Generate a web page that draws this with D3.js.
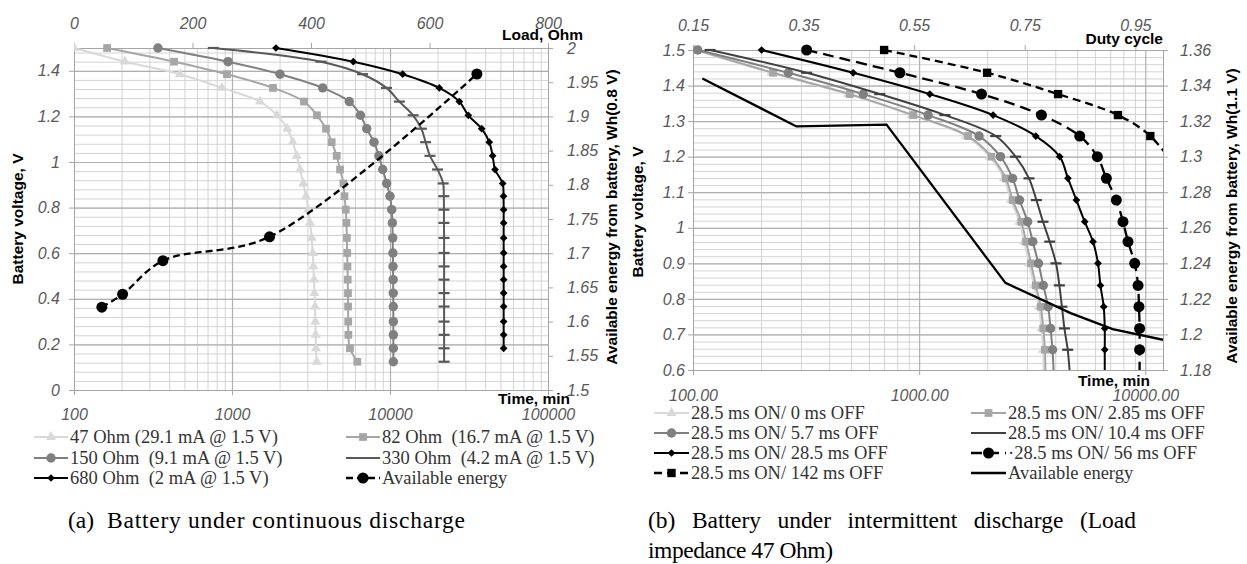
<!DOCTYPE html>
<html><head><meta charset="utf-8">
<script src="https://cdn.jsdelivr.net/npm/d3@7"></script>
<style>
body{margin:0;background:#fff;}
svg{display:block;}
text{white-space:pre;}
</style></head><body>
<svg id="c" width="1247" height="564"></svg>
<script>
// ================= DATA: (a) continuous discharge =================
const leftVolt = [1.5,1.44,1.385,1.325,1.265,1.205,1.146,1.087,1.027,0.967,0.906,0.85,0.791,0.733,0.667,0.601,0.542,0.484,0.425,0.366,0.3,0.242,0.183,0.124];
const t47  = [100,210,469,864,1504,1927,2239,2423,2567,2694,2828,2940,3040,3117,3194,3243,3272,3303,3325,3352,3367,3385,3400,3435];
const t82  = [162,430,929,1817,2856,3450,3936,4275,4600,4830,5070,5150,5250,5300,5330,5360,5380,5400,5420,5430,5440,5450,5580,6210];
const t150 = [340,944,2013,3750,5525,6500,7118,7920,8500,8990,9530,10000,10250,10350,10400,10430,10450,10470,10480,10490,10500,10500,10500,10500];
const t330 = [762,3660,6700,9500,11460,14000,15800,16800,17900,20000,21700,21900,21950,21950,22000,22000,22000,22000,22000,22000,22000,22000,22000,22000];
const t680 = [1898,5858,12030,20510,27470,31310,38040,42480,44630,46210,51680,52300,52400,52400,52400,52400,52400,52400,52400,52400,52400,52400,52400];
const loadOhm   = [47, 82, 150, 330, 680];
const energy08V = [1.621, 1.640, 1.689, 1.724, 1.962];

const leftYTicks  = [0,0.2,0.4,0.6,0.8,1,1.2,1.4];
const leftY2Ticks = [1.5,1.55,1.6,1.65,1.7,1.75,1.8,1.85,1.9,1.95,2];
const leftXTicks  = [100,1000,10000,100000];
const leftX2Ticks = [0,200,400,600,800];

// ================= DATA: (b) intermittent discharge =================
const rightVolt = [1.5,1.436,1.376,1.317,1.258,1.2,1.139,1.078,1.017,0.961,0.9,0.838,0.778,0.717,0.657,0.58];
const tOff0   = [102,222,485,925,1615,2050,2370,2545,2775,2915,3065,3220,3385,3475,3535,3555];
const tOff285 = [104,226,494,941,1647,2089,2416,2593,2830,2973,3124,3283,3450,3540,3600,3620];
const tOff57  = [105,264,566,1096,1841,2290,2590,2780,3020,3180,3370,3540,3720,3810,3890,3940];
const tOff104 = [119,318,670,1300,2180,2670,3060,3300,3530,3780,4030,4170,4280,4390,4540,4650];
const tOff28  = [201,511,1115,2124,3280,4184,4550,4960,5400,5873,6180,6335,6550,6620,6620,6620];
const tOff56  = [318,822,1887,3475,5130,6140,6730,7450,7970,8390,8980,9290,9380,9440,9440,9440];
const tOff142 = [700,1998,4115,7570,10530,14000];
const vOff142 = [1.5,1.436,1.376,1.317,1.258,1.16];
const dutyCycle = [0.167,0.337,0.5,0.715,0.833,0.909,1.0];
const energy11V = [1.344,1.317,1.318,1.229,1.212,1.203,1.197];

const rightYTicks  = [0.6,0.7,0.8,0.9,1,1.1,1.2,1.3,1.4,1.5];
const rightY2Ticks = [1.18,1.2,1.22,1.24,1.26,1.28,1.3,1.32,1.34,1.36];
const rightXTicks  = [100,1000,10000];
const rightX2Ticks = [0.15,0.35,0.55,0.75,0.95];

// ================= helpers =================
const svg = d3.select('#c');
const defs = svg.append('defs');
const TICKFONT = "'Liberation Sans', Arial, sans-serif";
const SERIF = "'Liberation Serif', 'Times New Roman', serif";
const fmtNum = d => String(+d.toFixed(2));

function zip(a, b){ return a.map((v,i)=>[v, b[i]]); }

function clipRect(id, x0, y0, x1, y1){
  defs.append('clipPath').attr('id', id).append('rect')
    .attr('x', x0).attr('y', y0).attr('width', x1-x0).attr('height', y1-y0);
}

function styleAxis(g, color){
  g.select('.domain').attr('stroke', color || '#a6a6a6').attr('stroke-width', 1);
  g.selectAll('.tick line').attr('stroke', color || '#a6a6a6');
  g.selectAll('.tick text').attr('font-family', TICKFONT).attr('font-style','italic')
    .attr('font-size', 16).attr('fill', '#595959');
}

function grid(g, xs, ys, x0, x1, y0, y1, hMinor, hMajor, vMinor, vMajor){
  const gg = g.append('g');
  const drawH = (vals, col, w) => gg.append('g').attr('transform', `translate(${x0},0)`)
    .call(d3.axisLeft(ys).tickValues(vals).tickSize(-(x1-x0)).tickFormat(''))
    .call(s => { s.select('.domain').remove(); s.selectAll('line').attr('stroke', col).attr('stroke-width', w); });
  const drawV = (vals, col, w) => gg.append('g').attr('transform', `translate(0,${y1})`)
    .call(d3.axisBottom(xs).tickValues(vals).tickSize(-(y1-y0)).tickFormat(''))
    .call(s => { s.select('.domain').remove(); s.selectAll('line').attr('stroke', col).attr('stroke-width', w); });
  drawV(vMinor, '#d3d3d3', 1);
  drawH(hMinor, '#d3d3d3', 1);
  drawV(vMajor, '#b0b0b0', 1.2);
  drawH(hMajor, '#b0b0b0', 1.2);
}

const symMap = {triangle: d3.symbolTriangle, square: d3.symbolSquare, circle: d3.symbolCircle};
function drawMarker(g, type, size, color){
  if (!type) return;
  if (type === 'dash') {
    g.append('rect').attr('x', -5.5).attr('y', -1.1).attr('width', 11).attr('height', 2.2).attr('fill', color);
  } else if (type === 'diamond') {
    g.append('path').attr('d', d3.symbol(d3.symbolSquare, size)()).attr('transform', 'rotate(45)').attr('fill', color);
  } else {
    g.append('path').attr('d', d3.symbol(symMap[type], size)()).attr('fill', color);
  }
}

function drawSeries(g, s, xs, ys, clipId){
  const sg = g.append('g').attr('clip-path', `url(#${clipId})`);
  const line = d3.line().x(d => xs(d[0])).y(d => ys(d[1])).curve(s.curve || d3.curveCatmullRom);
  sg.append('path').datum(s.data).attr('d', line).attr('fill','none')
    .attr('stroke', s.color).attr('stroke-width', s.width || 2)
    .attr('stroke-dasharray', s.dash || null);
  if (s.marker) {
    sg.selectAll(null).data(s.data).enter().append('g')
      .attr('transform', d => `translate(${xs(d[0])},${ys(d[1])})`)
      .each(function(){ drawMarker(d3.select(this), s.marker, s.size, s.color); });
  }
}

function legend(g, items, cols, rows, len){
  items.forEach((it, i) => {
    const x0 = cols[i % 2], y = rows[Math.floor(i / 2)];
    const lg = g.append('g');
    lg.append('line').attr('x1', x0).attr('x2', x0+len).attr('y1', y).attr('y2', y)
      .attr('stroke', it.color).attr('stroke-width', it.width || 2).attr('stroke-dasharray', it.dash || null);
    if (it.marker) drawMarker(lg.append('g').attr('transform', `translate(${x0+len/2},${y})`), it.marker, it.size, it.color);
    lg.append('text').attr('x', x0+len+2).attr('y', y).attr('dy','0.34em')
      .attr('font-family', SERIF).attr('font-size', 18.5).attr('fill', '#333').text(it.name);
  });
}

function axisTitle(g, text, x, y, rot, anchor){
  g.append('text').attr('transform', `translate(${x},${y}) rotate(${rot})`)
    .attr('text-anchor', anchor).attr('font-family', TICKFONT).attr('font-weight','bold')
    .attr('font-size', 15.5).attr('fill', '#000').text(text);
}

// ================= (a) LEFT PANEL =================
(function(){
  const X0 = 74, X1 = 548, Y0 = 48, Y1 = 390;
  const xs  = d3.scaleLog().domain([100, 100000]).range([X0, X1]);
  const ys  = d3.scaleLinear().domain([0, 1.5]).range([Y1, Y0]);
  const xs2 = d3.scaleLinear().domain([0, 800]).range([X0, X1]);
  const ys2 = d3.scaleLinear().domain([1.5, 2]).range([Y1, Y0]);
  const g = svg.append('g');
  clipRect('clipL', X0, Y0-8, X1+8, Y1);

  const vMinor = [];
  [100,1000,10000].forEach(dec => [2,3,4,5,6,7,8,9].forEach(k => vMinor.push(dec*k)));
  grid(g, xs, ys, X0, X1, Y0, Y1, d3.range(0, 1.49, 0.04), leftYTicks, vMinor, [1000,10000]);

  g.append('g').attr('transform', `translate(${X0},0)`)
    .call(d3.axisLeft(ys).tickValues(leftYTicks).tickFormat(fmtNum).tickSize(5).tickSizeOuter(0).tickPadding(9))
    .call(s => styleAxis(s));
  g.append('g').attr('transform', `translate(${X1},0)`)
    .call(d3.axisRight(ys2).tickValues(leftY2Ticks).tickFormat(fmtNum).tickSize(5).tickSizeOuter(0).tickPadding(14))
    .call(s => styleAxis(s));
  g.append('g').attr('transform', `translate(0,${Y1})`)
    .call(d3.axisBottom(xs).tickValues(leftXTicks).tickFormat(d3.format('d')).tickSize(5).tickSizeOuter(0).tickPadding(14))
    .call(s => styleAxis(s));
  g.append('g').attr('transform', `translate(0,${Y0})`)
    .call(d3.axisTop(xs2).tickValues(leftX2Ticks).tickFormat(d3.format('d')).tickSize(5).tickSizeOuter(0).tickPadding(14))
    .call(s => styleAxis(s));

  const series = [
    {name:'47 Ohm (29.1 mA @ 1.5 V)', data: zip(t47, leftVolt),  color:'#d9d9d9', marker:'triangle', size:45},
    {name:'82 Ohm  (16.7 mA @ 1.5 V)', data: zip(t82, leftVolt), color:'#a6a6a6', marker:'square', size:60},
    {name:'150 Ohm  (9.1 mA @ 1.5 V)', data: zip(t150, leftVolt),color:'#808080', marker:'circle', size:70},
    {name:'330 Ohm  (4.2 mA @ 1.5 V)', data: zip(t330, leftVolt),color:'#595959', marker:'dash', size:0},
    {name:'680 Ohm  (2 mA @ 1.5 V)', data: zip(t680, leftVolt.slice(0, t680.length)), color:'#000', marker:'diamond', size:30}
  ];
  series.forEach(s => drawSeries(g, s, xs, ys, 'clipL'));
  const en = {name:'Available energy', data: zip(loadOhm, energy08V), color:'#000', marker:'circle', size:95, dash:'7,4', width:2.3};
  drawSeries(g, en, xs2, ys2, 'clipL');

  axisTitle(g, 'Battery voltage, V', 23, 219, -90, 'middle');
  axisTitle(g, 'Available energy from battery, Wh(0.8 V)', 617, 217, -90, 'middle');
  axisTitle(g, 'Load, Ohm', 583, 40, 0, 'end');
  axisTitle(g, 'Time, min', 570, 404, 0, 'end');

  const items = series.slice();
  items.push(en);
  const legItems = items.map(d => Object.assign({}, d, d.marker === 'dash' ? {marker:null} : {}));
  legend(g, legItems, [34, 346], [437, 458, 478], 34);

  g.append('text').attr('x', 68).attr('y', 528).attr('font-family', SERIF).attr('font-size', 23.5).text('(a)');
  g.append('text').attr('x', 107).attr('y', 528).attr('font-family', SERIF).attr('font-size', 23.5)
    .attr('textLength', 358).attr('lengthAdjust', 'spacing').text('Battery under continuous discharge');
})();

// ================= (b) RIGHT PANEL =================
(function(){
  const X0 = 693, X1 = 1163, Y0 = 50, Y1 = 370;
  const xs  = d3.scaleLog().domain([100, 11980]).range([X0, X1]);
  const ys  = d3.scaleLinear().domain([0.6, 1.5]).range([Y1, Y0]);
  const xs2 = d3.scaleLinear().domain([0.15, 1.0]).range([X0, X1]);
  const ys2 = d3.scaleLinear().domain([1.18, 1.36]).range([Y1, Y0]);
  const g = svg.append('g');
  clipRect('clipR', X0, Y0-8, X1, Y1);

  const vMinor = [];
  [100,1000].forEach(dec => [2,3,4,5,6,7,8,9].forEach(k => vMinor.push(dec*k)));
  grid(g, xs, ys, X0, X1, Y0, Y1, d3.range(0.6, 1.51, 0.02), rightYTicks, vMinor, [1000,10000]);

  g.append('g').attr('transform', `translate(${X0},0)`)
    .call(d3.axisLeft(ys).tickValues(rightYTicks).tickFormat(fmtNum).tickSize(5).tickSizeOuter(0).tickPadding(3))
    .call(s => styleAxis(s));
  g.append('g').attr('transform', `translate(${X1},0)`)
    .call(d3.axisRight(ys2).tickValues(rightY2Ticks).tickFormat(fmtNum).tickSize(5).tickSizeOuter(0).tickPadding(12))
    .call(s => styleAxis(s));
  g.append('g').attr('transform', `translate(0,${Y1})`)
    .call(d3.axisBottom(xs).tickValues(rightXTicks).tickFormat(d3.format('.2f')).tickSize(5).tickSizeOuter(0).tickPadding(15))
    .call(s => styleAxis(s));
  g.append('g').attr('transform', `translate(0,${Y0})`)
    .call(d3.axisTop(xs2).tickValues(rightX2Ticks).tickFormat(d3.format('.2f')).tickSize(5).tickSizeOuter(0).tickPadding(14))
    .call(s => styleAxis(s));

  const series = [
    {name:'28.5 ms ON/ 0 ms OFF',    data: zip(tOff0, rightVolt),   color:'#d9d9d9', marker:'triangle', size:45},
    {name:'28.5 ms ON/ 2.85 ms OFF', data: zip(tOff285, rightVolt), color:'#a6a6a6', marker:'square', size:60},
    {name:'28.5 ms ON/ 5.7 ms OFF',  data: zip(tOff57, rightVolt),  color:'#808080', marker:'circle', size:70},
    {name:'28.5 ms ON/ 10.4 ms OFF', data: zip(tOff104, rightVolt), color:'#404040', marker:'dash', size:0},
    {name:'28.5 ms ON/ 28.5 ms OFF', data: zip(tOff28, rightVolt),  color:'#000', marker:'diamond', size:30},
    {name:'·28.5 ms ON/ 56 ms OFF',  data: zip(tOff56, rightVolt),  color:'#000', marker:'circle', size:95, dash:'11,6', width:2.3},
    {name:'28.5 ms ON/ 142 ms OFF',  data: zip(tOff142, vOff142),   color:'#000', marker:'square', size:70, dash:'8,5', width:2.3}
  ];
  series.forEach(s => drawSeries(g, s, xs, ys, 'clipR'));
  const en = {name:'Available energy', data: zip(dutyCycle, energy11V), color:'#000', marker:null, width:2.3, curve: d3.curveLinear};
  drawSeries(g, en, xs2, ys2, 'clipR');

  axisTitle(g, 'Battery voltage, V', 643, 212, -90, 'middle');
  axisTitle(g, 'Available energy from battery, Wh(1.1 V)', 1237, 216, -90, 'middle');
  axisTitle(g, 'Duty cycle', 1163, 44, 0, 'end');
  axisTitle(g, 'Time, min', 1150, 386, 0, 'end');

  const items = series.slice(); items.push(en);
  const legItems = items.map(d => Object.assign({}, d, d.marker === 'dash' ? {marker:null} : {}));
  legend(g, legItems, [654, 971], [413, 433, 453, 473], 35);

  // justified first caption line
  const words = ['(b)', 'Battery', 'under', 'intermittent', 'discharge', '(Load'];
  const L0 = 648, L1 = 1136;
  const nodes = words.map(w => g.append('text').attr('y', 528)
    .attr('font-family', SERIF).attr('font-size', 23.5).text(w));
  const widths = nodes.map(n => n.node().getComputedTextLength());
  const gap = (L1 - L0 - d3.sum(widths)) / (words.length - 1);
  let cx = L0;
  nodes.forEach((n, i) => { n.attr('x', cx); cx += widths[i] + gap; });
  g.append('text').attr('x', 648).attr('y', 558).attr('font-family', SERIF).attr('font-size', 23.5)
    .attr('textLength', 185).attr('lengthAdjust','spacing').text('impedance 47 Ohm)');
})();
</script>
</body></html>
